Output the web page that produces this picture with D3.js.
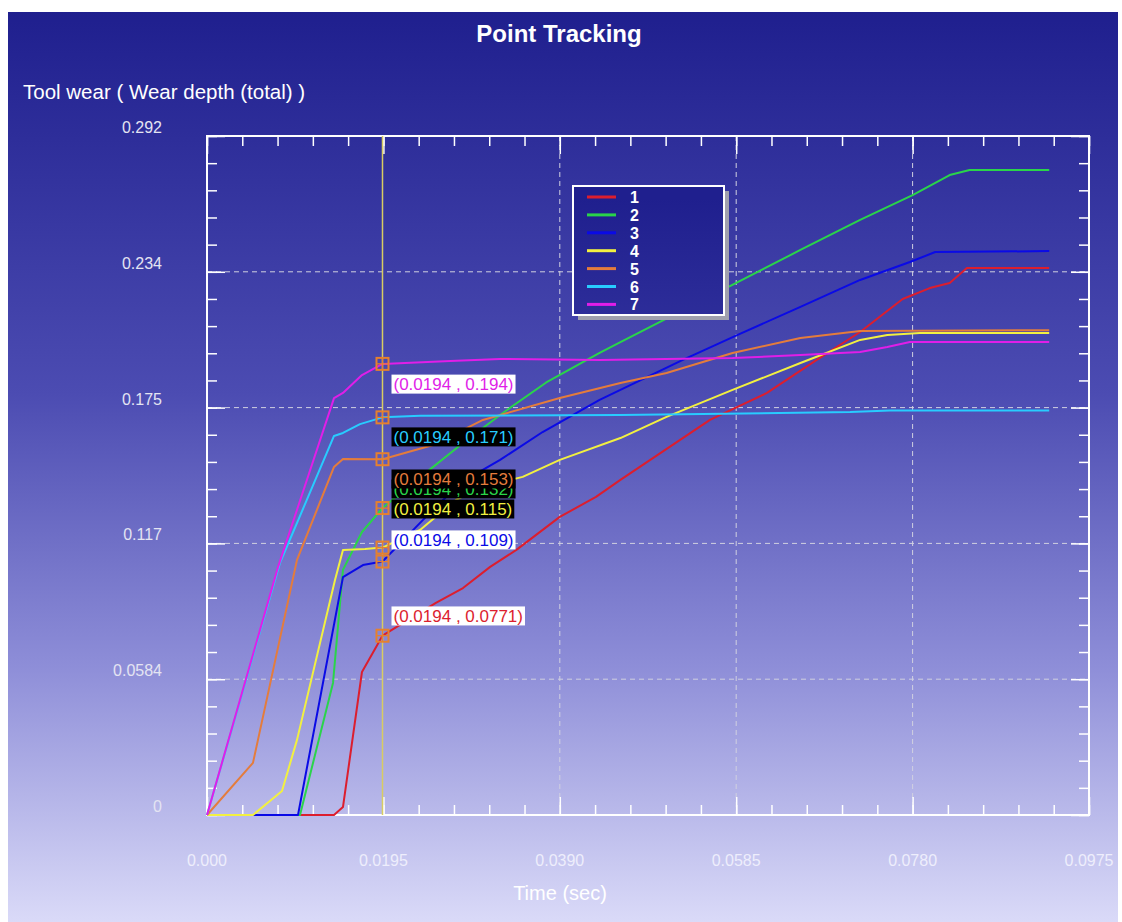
<!DOCTYPE html>
<html>
<head>
<meta charset="utf-8">
<script src="https://cdn.jsdelivr.net/npm/d3@7"></script>
<style>
body { margin: 0; background: #fff; }
text { font-family: "Liberation Sans", Arial, sans-serif; }
</style>
</head>
<body>
<script>
// ---- data ----
var seriesNames = ["1", "2", "3", "4", "5", "6", "7"];
var seriesColors = ["#dc1e2e", "#2ad44a", "#0a0ae6", "#f2f040", "#e47c3c", "#28ccff", "#e01ee8"];

var s1 = [[0,0],[0.01404,0],[0.01503,0.0034],[0.01713,0.0615],[0.0194,0.0771],[0.0253,0.0912],[0.0283,0.0976],
	[0.0313,0.1067],[0.0342,0.114],[0.0390,0.1282],[0.0430,0.1368],[0.0457,0.1441],[0.0556,0.1699],[0.0619,0.1815],
	[0.0674,0.1957],[0.0722,0.2077],[0.0769,0.2219],[0.0799,0.2266],[0.0821,0.2288],[0.0840,0.2352],[0.0931,0.2352]];
var s2 = [[0,0],[0.01028,0],[0.01393,0.0568],[0.01503,0.1054],[0.01713,0.1217],[0.0194,0.132],[0.0250,0.1497],
	[0.0283,0.160],[0.0327,0.1729],[0.0375,0.1860],[0.0434,0.1987],[0.0457,0.2034],[0.0570,0.2258],[0.0656,0.2430],
	[0.0722,0.2559],[0.0780,0.2666],[0.0821,0.2752],[0.0843,0.2774],[0.0931,0.2774]];
var s3 = [[0,0],[0.01006,0],[0.01503,0.1023],[0.01724,0.1075],[0.0194,0.109],[0.02388,0.1269],[0.0280,0.1428],
	[0.0324,0.1527],[0.0371,0.1647],[0.0434,0.1785],[0.0526,0.1957],[0.0586,0.2064],[0.0656,0.2185],[0.0722,0.2301],
	[0.0777,0.2378],[0.0805,0.2421],[0.0931,0.2425]];
var s4 = [[0,0],[0.00508,0],[0.00829,0.0103],[0.00995,0.0323],[0.01415,0.1011],[0.01503,0.114],[0.01747,0.1144],
	[0.0194,0.115],[0.02355,0.1226],[0.02753,0.1355],[0.0305,0.1411],[0.0349,0.1454],[0.0390,0.1527],[0.0457,0.1621],
	[0.0508,0.1712],[0.0581,0.1828],[0.0656,0.1944],[0.0722,0.2043],[0.0752,0.2064],[0.0788,0.2073],[0.0931,0.2073]];
var s5 = [[0,0],[0.00508,0.0224],[0.00995,0.1097],[0.01404,0.1497],[0.01503,0.1531],[0.0194,0.153],[0.0250,0.1591],
	[0.0305,0.1699],[0.0390,0.1793],[0.0457,0.1858],[0.0508,0.1901],[0.0581,0.1987],[0.0656,0.2051],[0.0722,0.2081],
	[0.0931,0.2085]];
var s6 = [[0,0],[0.00807,0.1084],[0.01404,0.163],[0.01503,0.1643],[0.01691,0.1681],[0.0194,0.171],[0.02355,0.1717],
	[0.0457,0.172],[0.0711,0.1733],[0.0755,0.174],[0.0931,0.174]];
var s7 = [[0,0],[0.00785,0.1066],[0.01404,0.1793],[0.01503,0.1815],[0.01713,0.1892],[0.0194,0.194],[0.0269,0.1952],
	[0.0324,0.1961],[0.0434,0.1957],[0.0581,0.1965],[0.0656,0.1978],[0.0722,0.1991],[0.0752,0.2013],[0.0777,0.2034],
	[0.0931,0.2034]];
var seriesData = [s1, s2, s3, s4, s5, s6, s7];

var xTicks = [0, 0.0195, 0.039, 0.0585, 0.078, 0.0975];
var xTickLabels = ["0.000", "0.0195", "0.0390", "0.0585", "0.0780", "0.0975"];
var yTicks = [0, 0.0584, 0.1168, 0.1752, 0.2336, 0.292];
var yTickLabels = ["0", "0.0584", "0.117", "0.175", "0.234", "0.292"];

// point tracking cursor
var cursorT = 0.0194;
var cursorTLabel = "0.0194";
var readouts = ["0.0771", "0.132", "0.109", "0.115", "0.153", "0.171", "0.194"];
var readoutLabelAt = [0.0856, 0.1402, 0.1183, 0.1316, 0.1445, 0.1626, 0.1853];
var readoutDark = [false, true, false, true, true, true, false];

// ---- layout ----
var width = 1122, height = 922;
var plot = {left: 207, right: 1089, top: 136, bottom: 815};

var x = d3.scaleLinear().domain([0, 0.0975]).range([plot.left, plot.right]);
var y = d3.scaleLinear().domain([0, 0.292]).range([plot.bottom, plot.top]);

var translate = (a, b) => "translate(" + a + "," + b + ")";

var svg = d3.select("body").append("svg")
	.attr("width", width)
	.attr("height", height);

var defs = svg.append("defs");
var grad = defs.append("linearGradient")
	.attr("id", "bg")
	.attr("gradientUnits", "userSpaceOnUse")
	.attr("x1", 0).attr("y1", 12)
	.attr("x2", 0).attr("y2", height);
grad.append("stop").attr("offset", 0).attr("stop-color", "#1f1f8e");
grad.append("stop").attr("offset", 0.42).attr("stop-color", "#4c4cb2");
grad.append("stop").attr("offset", 0.72).attr("stop-color", "#8e8ed8");
grad.append("stop").attr("offset", 1).attr("stop-color", "#dadaf8");

svg.append("rect")
	.attr("x", 8).attr("y", 12)
	.attr("width", 1110).attr("height", height - 12)
	.attr("fill", "url(#bg)");

// title + axis titles
svg.append("text")
	.attr("x", 559).attr("y", 42)
	.attr("text-anchor", "middle")
	.attr("font-size", 24).attr("font-weight", "bold")
	.attr("fill", "#fff")
	.text("Point Tracking");

svg.append("text")
	.attr("x", 23).attr("y", 99)
	.attr("font-size", 20.5)
	.attr("fill", "#fff")
	.text("Tool wear ( Wear depth (total) )");

svg.append("text")
	.attr("x", 560).attr("y", 900)
	.attr("text-anchor", "middle")
	.attr("font-size", 20)
	.attr("fill", "#fff")
	.text("Time (sec)");

// grid
var grid = svg.append("g").attr("class", "grid")
	.attr("stroke", "#d0d0e0")
	.attr("stroke-width", 1)
	.attr("stroke-dasharray", "5,4");

grid.selectAll("line.h")
	.data(yTicks.slice(1, -1))
	.enter().append("line")
	.attr("class", "h")
	.attr("x1", plot.left).attr("x2", plot.right)
	.attr("y1", d => y(d)).attr("y2", d => y(d));

grid.selectAll("line.v")
	.data(xTicks.slice(2, -1))
	.enter().append("line")
	.attr("class", "v")
	.attr("y1", plot.top).attr("y2", plot.bottom)
	.attr("x1", d => x(d)).attr("x2", d => x(d));

// ticks, all pointing inward
var xMinor = d3.range(0, 26).map(i => i * 0.0975 / 25);
var yMinor = d3.range(0, 26).map(i => i * 0.292 / 25);

var tickStyle = g => {
	g.select(".domain").remove();
	g.selectAll("line").attr("stroke", "#fff").attr("stroke-width", 1.5);
};

var tickSets = [
	[d3.axisBottom, x, plot.bottom, true],
	[d3.axisTop, x, plot.top, true],
	[d3.axisLeft, y, plot.left, false],
	[d3.axisRight, y, plot.right, false]
];
tickSets.forEach(s => {
	var pos = s[3] ? translate(0, s[2]) : translate(s[2], 0);
	var minor = s[3] ? xMinor : yMinor;
	var major = s[3] ? xTicks : yTicks;
	svg.append("g").attr("transform", pos)
		.call(s[0](s[1]).tickValues(minor).tickSize(-10).tickFormat(""))
		.call(tickStyle);
	svg.append("g").attr("transform", pos)
		.call(s[0](s[1]).tickValues(major).tickSize(-18).tickFormat(""))
		.call(tickStyle);
});

// tick labels
svg.append("g")
	.selectAll("text")
	.data(yTicks)
	.enter().append("text")
	.attr("x", 162)
	.attr("y", d => y(d) - 3)
	.attr("text-anchor", "end")
	.attr("font-size", 16)
	.attr("fill", "#e4e4f2")
	.text((d, i) => yTickLabels[i]);

svg.append("g")
	.selectAll("text")
	.data(xTicks)
	.enter().append("text")
	.attr("x", d => x(d))
	.attr("y", 866)
	.attr("text-anchor", "middle")
	.attr("font-size", 16)
	.attr("fill", "#eeeefc")
	.text((d, i) => xTickLabels[i]);

// frame
svg.append("rect")
	.attr("x", plot.left).attr("y", plot.top)
	.attr("width", plot.right - plot.left)
	.attr("height", plot.bottom - plot.top)
	.attr("fill", "none")
	.attr("stroke", "#fff")
	.attr("stroke-width", 2);

// series lines
var line = d3.line()
	.x(d => x(d[0]))
	.y(d => y(d[1]));

svg.append("g").attr("class", "lines")
	.selectAll("path")
	.data(seriesData)
	.enter().append("path")
	.attr("d", line)
	.attr("fill", "none")
	.attr("stroke", (d, i) => seriesColors[i])
	.attr("stroke-width", 2)
	.attr("stroke-linejoin", "round");

// cursor line
svg.append("line")
	.attr("x1", x(cursorT)).attr("x2", x(cursorT))
	.attr("y1", plot.top).attr("y2", plot.bottom)
	.attr("stroke", "#d8cc62")
	.attr("stroke-width", 1.5);

// markers
var markers = svg.append("g").attr("class", "markers")
	.selectAll("g")
	.data(readouts)
	.enter().append("g")
	.attr("transform", d => translate(x(cursorT), y(+d)))
	.attr("stroke", "#e6802e")
	.attr("stroke-width", 2)
	.attr("fill", "none");

markers.append("rect")
	.attr("x", -6).attr("y", -6)
	.attr("width", 12).attr("height", 12);
markers.append("path")
	.attr("stroke-width", 1.2)
	.attr("d", "M-6,0H6M0,-6V6");

// readout labels (orange one sits over the green one, as in the source)
var labels = svg.append("g").attr("class", "readouts")
	.selectAll("g")
	.data(readouts)
	.enter().append("g")
	.attr("transform", (d, i) => translate(x(cursorT) + 9, y(readoutLabelAt[i])));

labels.append("rect")
	.attr("fill", (d, i) => readoutDark[i] ? "#000" : "#fff");
labels.append("text")
	.attr("x", 2)
	.attr("y", 6)
	.attr("font-size", 17)
	.attr("fill", (d, i) => seriesColors[i])
	.text(d => "(" + cursorTLabel + " , " + d + ")");

labels.each(function () {
	var g = d3.select(this);
	var w = g.select("text").node().getComputedTextLength();
	g.select("rect")
		.attr("x", 0).attr("y", -9.5)
		.attr("width", w + 4).attr("height", 19);
});

// legend
var legend = svg.append("g").attr("class", "legend")
	.attr("transform", translate(573, 186));

legend.append("rect")
	.attr("x", 5).attr("y", 5)
	.attr("width", 151).attr("height", 129)
	.attr("fill", "#a0a0ae");
legend.append("rect")
	.attr("width", 151).attr("height", 129)
	.attr("fill", "url(#bg)")
	.attr("stroke", "#fff")
	.attr("stroke-width", 2);

var items = legend.selectAll("g.item")
	.data(seriesNames)
	.enter().append("g")
	.attr("class", "item")
	.attr("transform", (d, i) => translate(0, 11 + i * 17.9));

items.append("line")
	.attr("x1", 14).attr("x2", 43)
	.attr("stroke", (d, i) => seriesColors[i])
	.attr("stroke-width", 3);
items.append("text")
	.attr("x", 57).attr("y", 6)
	.attr("font-size", 16).attr("font-weight", "bold")
	.attr("fill", "#fff")
	.text(d => d);
</script>
</body>
</html>
